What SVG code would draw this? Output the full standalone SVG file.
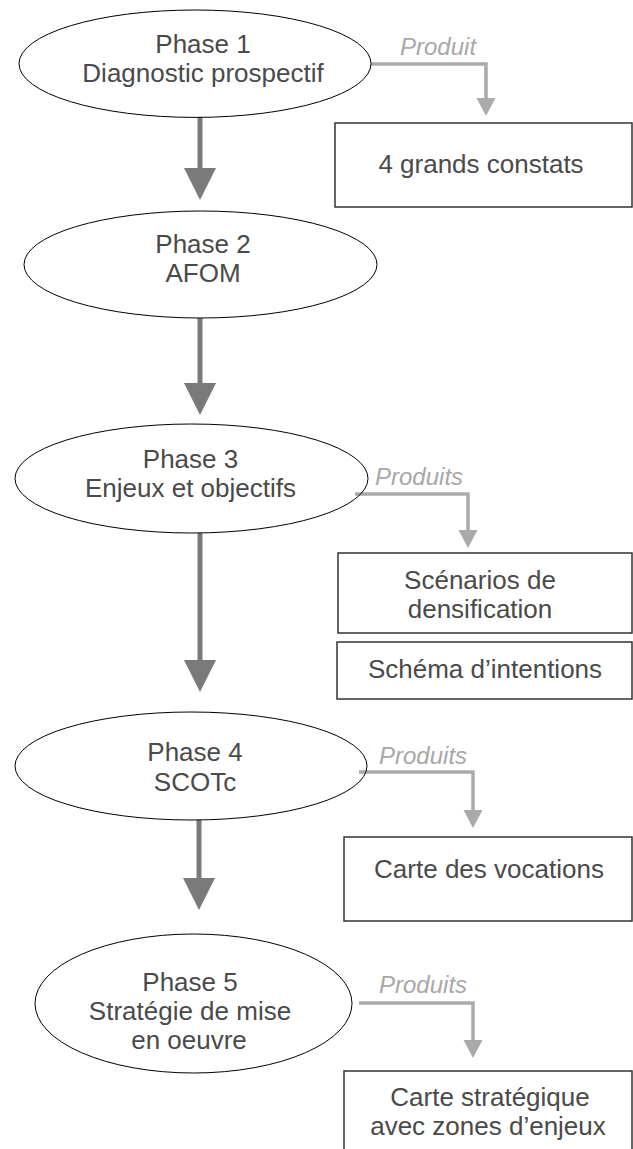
<svg xmlns="http://www.w3.org/2000/svg" width="633" height="1149" viewBox="0 0 633 1149">
<style>
.ph{fill:#fff;stroke:#000;stroke-width:1}
.bx{fill:#fff;stroke:#333;stroke-width:1.5}
.t{font-family:"Liberation Sans",Arial,sans-serif;font-size:26px;fill:#4a4a4a;text-anchor:middle}
.pl{font-family:"Liberation Sans",Arial,sans-serif;font-size:24px;font-style:italic;fill:#a8a8a8}
.main{fill:none;stroke:#7a7a7a;stroke-width:5;marker-end:url(#mh)}
.prod{fill:none;stroke:#aaaaaa;stroke-width:3.5;marker-end:url(#ph)}
</style>
<defs>
<marker id="mh" markerUnits="userSpaceOnUse" markerWidth="32" markerHeight="32" refX="0" refY="16" orient="auto" overflow="visible">
<path d="M0,0 L32,16 L0,32 z" fill="#7a7a7a"/>
</marker>
<marker id="ph" markerUnits="userSpaceOnUse" markerWidth="18" markerHeight="19" refX="0" refY="9.5" orient="auto" overflow="visible">
<path d="M0,0 L18,9.5 L0,19 z" fill="#aaaaaa"/>
</marker>
</defs>
<g id="connectors">
<path class="main" d="M200,117 V168"/>
<path class="main" d="M200,318 V383"/>
<path class="main" d="M200,533 V660"/>
<path class="main" d="M199,820 V878"/>
<path class="prod" d="M371,64 H486 V98"/>
<path class="prod" d="M355,494 H468 V530"/>
<path class="prod" d="M359,772 H473 V810"/>
<path class="prod" d="M359,1003 H473 V1040"/>
<text class="pl" x="400" y="55">Produit</text>
<text class="pl" x="375" y="485">Produits</text>
<text class="pl" x="379" y="764">Produits</text>
<text class="pl" x="379" y="993">Produits</text>
</g>
<g id="phase1">
<ellipse class="ph" cx="195" cy="63.7" rx="176" ry="53.7" fill-opacity="0"/>
<text class="t" x="203" y="53">Phase 1</text>
<text class="t" x="203" y="82">Diagnostic prospectif</text>
</g>
<g id="phase2">
<ellipse class="ph" cx="200.5" cy="264.5" rx="176.5" ry="53.5"/>
<text class="t" x="203" y="253">Phase 2</text>
<text class="t" x="203" y="282">AFOM</text>
</g>
<g id="phase3">
<ellipse class="ph" cx="191.5" cy="478.5" rx="176.5" ry="54.5" fill-opacity="0"/>
<text class="t" x="190.5" y="468">Phase 3</text>
<text class="t" x="190.5" y="497">Enjeux et objectifs</text>
</g>
<g id="phase4">
<ellipse class="ph" cx="191" cy="766" rx="176" ry="54" fill-opacity="0"/>
<text class="t" x="195" y="761">Phase 4</text>
<text class="t" x="195" y="791">SCOTc</text>
</g>
<g id="phase5">
<ellipse class="ph" cx="193.5" cy="1003.5" rx="158.5" ry="69.5"/>
<text class="t" x="190" y="991">Phase 5</text>
<text class="t" x="190" y="1020">Stratégie de mise</text>
<text class="t" x="189" y="1049">en oeuvre</text>
</g>
<g id="box1">
<rect class="bx" x="335" y="123" width="297" height="84"/>
<text class="t" x="481" y="173">4 grands constats</text>
</g>
<g id="box2">
<rect class="bx" x="338" y="553" width="294" height="80"/>
<text class="t" x="480" y="589">Scénarios de</text>
<text class="t" x="480" y="618">densification</text>
</g>
<g id="box3">
<rect class="bx" x="337" y="642" width="295" height="57"/>
<text class="t" x="485" y="678">Schéma d’intentions</text>
</g>
<g id="box4">
<rect class="bx" x="344" y="837" width="288" height="84"/>
<text class="t" x="489" y="878">Carte des vocations</text>
</g>
<g id="box5">
<rect class="bx" x="344" y="1071" width="288" height="100"/>
<text class="t" x="490" y="1106">Carte stratégique</text>
<text class="t" x="488" y="1135">avec zones d’enjeux</text>
</g>
</svg>
